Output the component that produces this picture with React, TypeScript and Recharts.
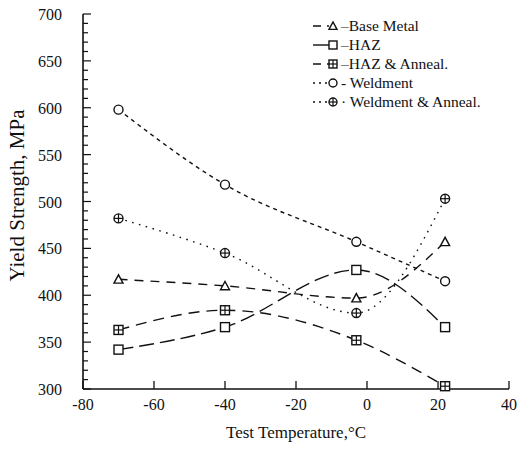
import React from 'react';
import { LineChart, Line, XAxis, YAxis } from 'recharts';

// Test temperatures (°C) shared by every series
const temps = [-70, -40, -3, 22];

// Yield strength, MPa
const baseMetal = [417, 410, 397, 457];
const haz = [342, 366, 427, 366];
const hazAnneal = [363, 384, 352, 303];
const weldment = [598, 518, 457, 415];
const weldAnneal = [482, 445, 381, 503];

const xTicks = [-80, -60, -40, -20, 0, 20, 40];
const yMajorTicks = [300, 350, 400, 450, 500, 550, 600, 650, 700];
const yMinorStep = 10;

const yTicks: number[] = [];
for (let v = 300; v <= 700; v += yMinorStep) yTicks.push(v);

const data = temps.map((t, i) => ({
  t,
  baseMetal: baseMetal[i],
  haz: haz[i],
  hazAnneal: hazAnneal[i],
  weldment: weldment[i],
  weldAnneal: weldAnneal[i],
}));

type MarkerKind = 'triangle' | 'square' | 'squarePlus' | 'circle' | 'circlePlus';

const FONT = '"Liberation Serif", "DejaVu Serif", serif';
const INK = '#111';

function Marker({ kind, cx, cy, s = 9 }: { kind: MarkerKind; cx: number; cy: number; s?: number }) {
  const h = s / 2;
  const common = { fill: '#fff', stroke: INK, strokeWidth: 1.4 };
  switch (kind) {
    case 'triangle':
      return (
        <polygon
          points={`${cx - h},${cy + h * 0.85} ${cx + h},${cy + h * 0.85} ${cx},${cy - h}`}
          {...common}
        />
      );
    case 'square':
      return <rect x={cx - h} y={cy - h} width={s} height={s} {...common} />;
    case 'squarePlus':
      return (
        <g>
          <rect x={cx - h} y={cy - h} width={s} height={s} {...common} />
          <line x1={cx - h} y1={cy} x2={cx + h} y2={cy} stroke={INK} strokeWidth={1.2} />
          <line x1={cx} y1={cy - h} x2={cx} y2={cy + h} stroke={INK} strokeWidth={1.2} />
        </g>
      );
    case 'circle':
      return <circle cx={cx} cy={cy} r={h} {...common} />;
    case 'circlePlus':
      return (
        <g>
          <circle cx={cx} cy={cy} r={h} {...common} />
          <line x1={cx - h} y1={cy} x2={cx + h} y2={cy} stroke={INK} strokeWidth={1.2} />
          <line x1={cx} y1={cy - h} x2={cx} y2={cy + h} stroke={INK} strokeWidth={1.2} />
        </g>
      );
  }
}

const series: { key: string; name: string; kind: MarkerKind; dash: string; legendDash: string; sep: string }[] = [
  { key: 'baseMetal', name: 'Base Metal', kind: 'triangle', dash: '9 7', legendDash: '8 6', sep: '–' },
  { key: 'haz', name: 'HAZ', kind: 'square', dash: '15 6', legendDash: '16 0', sep: '–' },
  { key: 'hazAnneal', name: 'HAZ & Anneal.', kind: 'squarePlus', dash: '11 7', legendDash: '8 6', sep: '–' },
  { key: 'weldment', name: 'Weldment', kind: 'circle', dash: '4 4', legendDash: '2 4', sep: '- ' },
  { key: 'weldAnneal', name: 'Weldment & Anneal.', kind: 'circlePlus', dash: '1.6 5.5', legendDash: '2 4', sep: '· ' },
];

const makeDot = (kind: MarkerKind) => (props: any) => {
  const { cx, cy, index } = props;
  if (cx == null || cy == null) return <g key={index} />;
  return (
    <g key={`${kind}-${index}`}>
      <Marker kind={kind} cx={cx} cy={cy} />
    </g>
  );
};

// Bottom axis: inward tick marks plus labels
const BottomTick = (props: any) => {
  const { x, y, payload } = props;
  return (
    <g>
      <line x1={x} y1={y} x2={x} y2={y - 8} stroke={INK} strokeWidth={1.3} />
      <text x={x} y={y + 21} textAnchor="middle" fontFamily={FONT} fontSize={16} fill={INK}>
        {payload.value}
      </text>
    </g>
  );
};

const TopTick = (props: any) => {
  const { x, y } = props;
  return <line x1={x} y1={y} x2={x} y2={y + 8} stroke={INK} strokeWidth={1.3} />;
};

const LeftTick = (props: any) => {
  const { x, y, payload } = props;
  const major = yMajorTicks.includes(payload.value);
  return (
    <g>
      <line x1={x} y1={y} x2={x + (major ? 8 : 5)} y2={y} stroke={INK} strokeWidth={1.2} />
      {major && (
        <text x={x - 21} y={y + 6} textAnchor="end" fontFamily={FONT} fontSize={16} fill={INK}>
          {payload.value}
        </text>
      )}
    </g>
  );
};

const RightTick = (props: any) => {
  const { x, y, payload } = props;
  const major = yMajorTicks.includes(payload.value);
  return <line x1={x} y1={y} x2={x - (major ? 8 : 5)} y2={y} stroke={INK} strokeWidth={1.2} />;
};

const YTitle = (props: any) => {
  const { viewBox } = props;
  const cx = 17;
  const cy = viewBox.y + viewBox.height / 2 - 6;
  return (
    <text
      x={cx}
      y={cy}
      transform={`rotate(-90 ${cx} ${cy})`}
      textAnchor="middle"
      dominantBaseline="central"
      fontFamily={FONT}
      fontSize={21}
      fill={INK}
    >
      Yield Strength, MPa
    </text>
  );
};

const XTitle = (props: any) => {
  const { viewBox } = props;
  const cx = viewBox.x + viewBox.width / 2;
  return (
    <text x={cx} y={viewBox.y + 49} textAnchor="middle" fontFamily={FONT} fontSize={17} fill={INK}>
      Test Temperature,°C
    </text>
  );
};

function LegendBox() {
  const rowH = 19;
  return (
    <svg
      width={215}
      height={110}
      style={{ position: 'absolute', left: 305, top: 16, overflow: 'visible' }}
    >
      {series.map((s, i) => {
        const y = 10 + i * rowH;
        return (
          <g key={s.key}>
            <line x1={8} y1={y} x2={24} y2={y} stroke={INK} strokeWidth={1.4} strokeDasharray={s.legendDash} />
            <Marker kind={s.kind} cx={28} cy={y} s={8} />
            <text x={36} y={y + 5} fontFamily={FONT} fontSize={15.5} fill={INK}>
              {s.sep + s.name}
            </text>
          </g>
        );
      })}
    </svg>
  );
}

export default function App() {
  return (
    <div style={{ position: 'absolute', left: 0, top: 0, width: 517, height: 456, background: '#fff' }}>
      <LineChart width={517} height={456} data={data} margin={{ top: 14, right: 8, bottom: 0, left: 0 }}>
        <XAxis
          xAxisId="b"
          dataKey="t"
          type="number"
          domain={[-80, 40]}
          ticks={xTicks}
          height={67}
          tickSize={0}
          tickMargin={0}
          tick={<BottomTick />}
          axisLine={{ stroke: INK, strokeWidth: 1.6 }}
          tickLine={false}
          interval={0}
          label={<XTitle />}
        />
        <XAxis
          xAxisId="t"
          orientation="top"
          dataKey="t"
          type="number"
          domain={[-80, 40]}
          ticks={xTicks}
          height={0}
          tickSize={0}
          tickMargin={0}
          tick={<TopTick />}
          axisLine={{ stroke: INK, strokeWidth: 1.6 }}
          tickLine={false}
          interval={0}
        />
        <YAxis
          yAxisId="l"
          type="number"
          domain={[300, 700]}
          ticks={yTicks}
          width={83}
          tickSize={0}
          tickMargin={0}
          tick={<LeftTick />}
          axisLine={{ stroke: INK, strokeWidth: 1.6 }}
          tickLine={false}
          interval={0}
          label={<YTitle />}
        />
        <YAxis
          yAxisId="r"
          orientation="right"
          type="number"
          domain={[300, 700]}
          ticks={yTicks}
          width={0}
          tickSize={0}
          tickMargin={0}
          tick={<RightTick />}
          axisLine={{ stroke: INK, strokeWidth: 1.6 }}
          tickLine={false}
          interval={0}
        />
        {series.map((s) => (
          <Line
            key={s.key}
            xAxisId="b"
            yAxisId="l"
            dataKey={s.key}
            name={s.name}
            type="monotone"
            stroke={INK}
            strokeWidth={1.4}
            strokeDasharray={s.dash}
            dot={makeDot(s.kind)}
            activeDot={false}
            isAnimationActive={false}
          />
        ))}
      </LineChart>
      <LegendBox />
    </div>
  );
}
